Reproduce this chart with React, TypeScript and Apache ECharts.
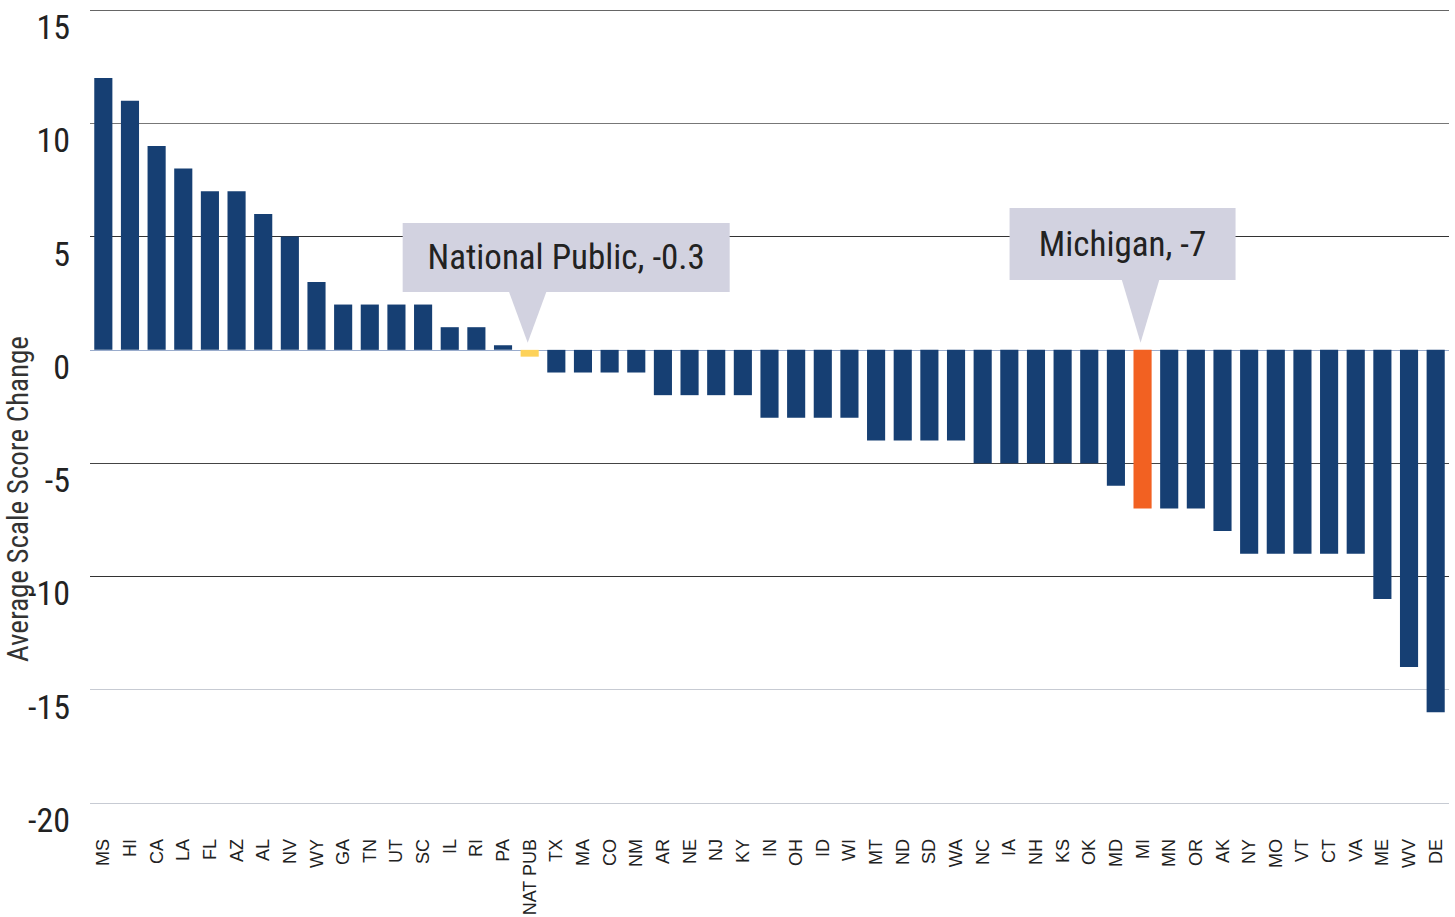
import React, { useEffect, useRef } from "react";
import * as echarts from "echarts";

const categories = ["MS","HI","CA","LA","FL","AZ","AL","NV","WY","GA","TN","UT","SC","IL","RI","PA","NAT PUB","TX","MA","CO","NM","AR","NE","NJ","KY","IN","OH","ID","WI","MT","ND","SD","WA","NC","IA","NH","KS","OK","MD","MI","MN","OR","AK","NY","MO","VT","CT","VA","ME","WV","DE"];
const values = [12,11,9,8,7,7,6,5,3,2,2,2,2,1,1,0.2,-0.3,-1,-1,-1,-1,-2,-2,-2,-2,-3,-3,-3,-3,-4,-4,-4,-4,-5,-5,-5,-5,-5,-6,-7,-7,-7,-8,-9,-9,-9,-9,-9,-11,-14,-16];
const yTicks = [-20, -15, -10, -5, 0, 5, 10, 15];
const yAxisTitle = "Average Scale Score Change";
const callouts = [
  { cat: "NAT PUB", text: "National Public, -0.3", boxLeft: -125, boxWidth: 327, boxTop: 223, boxH: 69 },
  { cat: "MI", text: "Michigan, -7", boxLeft: -131, boxWidth: 226, boxTop: 208, boxH: 72 },
];

const NAVY = "#163f73";
const COND = "'Liberation Sans Narrow', 'Arial Narrow', 'Roboto Condensed', Roboto, sans-serif";

export default function App() {
  const ref = useRef<HTMLDivElement>(null);
  useEffect(() => {
    if (!ref.current) return;
    const chart = echarts.init(ref.current, null, { renderer: "svg" });
    const data = values.map((v, i) => {
      const c = categories[i];
      let color = NAVY;
      if (c === "NAT PUB") color = "#fdd25a";
      if (c === "MI") color = "#f26122";
      return { value: v, itemStyle: { color } };
    });
    chart.setOption({
      animation: false,
      grid: { left: 90, right: 6, top: 10, bottom: 114, containLabel: false, outerBoundsMode: "none" },
      xAxis: {
        type: "category",
        data: categories,
        axisLine: { show: false },
        axisTick: { show: false },
        axisLabel: { rotate: 90, interval: 0, margin: 36, fontSize: 18, color: "#222", fontFamily: "'Liberation Sans', Arial, sans-serif" },
      },
      yAxis: {
        type: "value",
        min: yTicks[0],
        max: yTicks[yTicks.length - 1],
        interval: 5,
        axisLine: { show: false },
        axisTick: { show: false },
        axisLabel: { margin: 20, fontSize: 34, color: "#222", fontFamily: COND, verticalAlign: "top" },
        splitLine: {
          show: true,
          lineStyle: { width: 1.2, color: ["#c7cbd3", "#c7cbd3", "#333", "#444", "#9aaccc", "#333", "#777", "#666"] },
        },
      },
      series: [
        { type: "bar", data, barWidth: "68%" },
      ],
    });
    const graphics: any[] = [
      {
        type: "text",
        x: 18,
        y: 499,
        rotation: Math.PI / 2,
        style: { text: yAxisTitle, fontSize: 29, fill: "#333", fontFamily: COND, align: "center", verticalAlign: "middle" },
      },
    ];
    callouts.forEach((c) => {
      const idx = categories.indexOf(c.cat);
      const [px] = chart.convertToPixel({ xAxisIndex: 0, yAxisIndex: 0 }, [idx, 0]);
      const tipX = px - 2;
      const zeroY = chart.convertToPixel({ yAxisIndex: 0 }, 0) as number;
      const boxBottom = c.boxTop + c.boxH;
      const bx = tipX + c.boxLeft;
      graphics.push({
        type: "rect",
        shape: { x: bx, y: c.boxTop, width: c.boxWidth, height: c.boxH },
        style: { fill: "#d2d2e0" },
        z: 10,
      });
      graphics.push({
        type: "polygon",
        shape: { points: [[tipX - 19, boxBottom - 1], [tipX + 19, boxBottom - 1], [tipX, zeroY - 7]] },
        style: { fill: "#d2d2e0" },
        z: 10,
      });
      graphics.push({
        type: "text",
        x: bx + c.boxWidth / 2,
        y: c.boxTop + c.boxH / 2,
        style: { text: c.text, fontSize: 35, fill: "#222", fontFamily: COND, align: "center", verticalAlign: "middle" },
        z: 11,
      });
    });
    chart.setOption({ graphic: graphics });
    return () => chart.dispose();
  }, []);
  return <div ref={ref} style={{ width: 1455, height: 917, position: "absolute", left: 0, top: 0, background: "#fff" }} />;
}
